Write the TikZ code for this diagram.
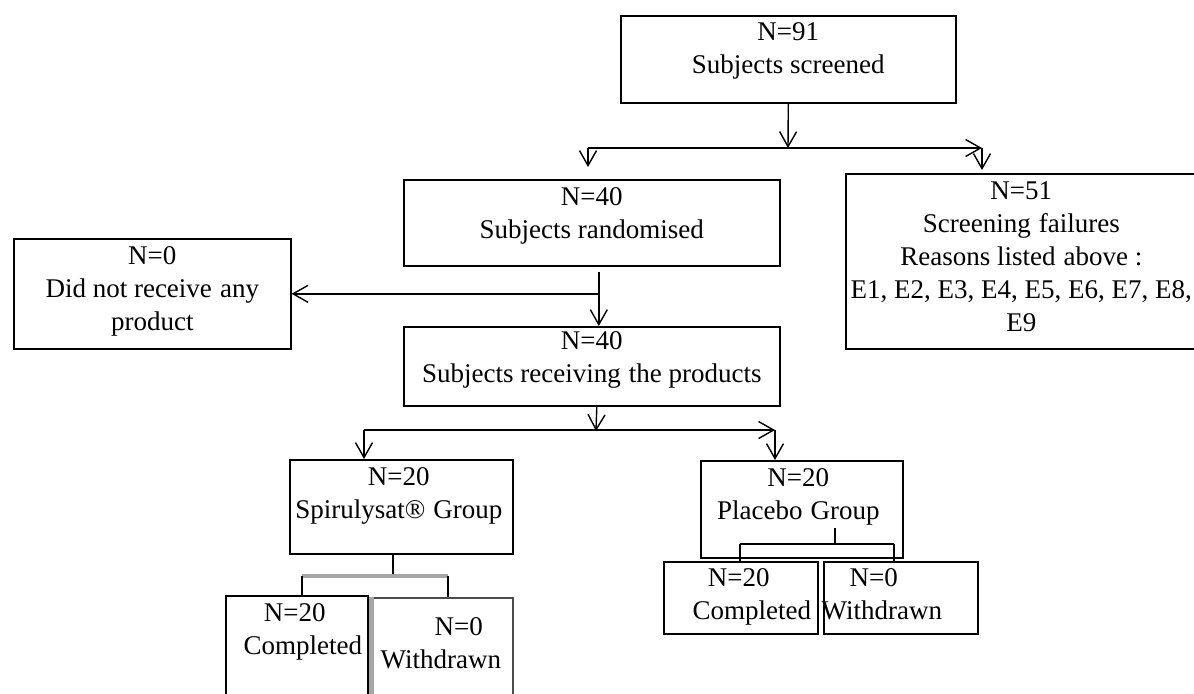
\documentclass[tikz,border=0pt]{standalone}
\usepackage{fontspec}
\setmainfont{Liberation Serif}
\usetikzlibrary{positioning,arrows.meta}
\newcommand\wsp{\hspace{0.3em}}
\tikzset{
  box/.style={draw, line width=0.8pt, inner sep=0pt, anchor=north west},
  txt/.style={align=center, inner sep=0pt, font=\fontsize{13.5}{16.5}\selectfont},
  arr/.style={line width=0.7pt, -{Straight Barb[length=7.5pt,width=8.5pt]}},
  link/.style={line width=0.7pt},
  grayline/.style={draw=gray!70, line width=2pt}
}
\begin{document}
\begin{tikzpicture}[x=0.5pt, y=-0.5pt]
  \useasboundingbox (0,0) rectangle (1194,693);
  % boxes
  \node[box, minimum width=167.5pt, minimum height=43.5pt] (screen) at (620,15) {};
  \node[box, minimum width=188pt, minimum height=43pt] (rand) at (403,179) {};
  \node[box, minimum width=175.5pt, minimum height=87.5pt] (fail) at (845,173) {};
  \node[box, minimum width=138.5pt, minimum height=55pt] (none) at (13,238) {};
  \node[box, minimum width=188pt, minimum height=39.5pt] (recv) at (403,326) {};
  \node[box, minimum width=111.5pt, minimum height=47pt] (spir) at (289,459) {};
  \node[box, minimum width=101pt, minimum height=48.5pt] (plac) at (700,460) {};
  \node[box, minimum width=71pt, minimum height=62.5pt] (comp1) at (225,595) {};
  \node[box, draw=gray!60!black, minimum width=70.5pt, minimum height=61.5pt] (with1) at (371,597) {};
  \node[box, minimum width=77pt, minimum height=36pt] (comp2) at (663,561) {};
  \node[box, minimum width=77pt, minimum height=36pt] (with2) at (823,561) {};
  \draw[grayline, line width=2.5pt] (with1.north west) -- (with1.south west);

  % texts
  \node[txt, below=3.5pt of screen.north] (screen-t) {N=91\\Subjects screened};
  \node[txt, below=4pt of rand.north] (rand-t) {N=40\\Subjects randomised};
  \node[txt, below=4pt of fail.north] (fail-t) {N=51\\Screening\wsp failures\\Reasons listed\wsp above :\\E1, E2, E3, E4, E5, E6, E7, E8,\\E9};
  \node[txt, below=4pt of none.north] (none-t) {N=0\\Did not receive\wsp any\\product};
  \node[txt, below=2.5pt of recv.north] (recv-t) {N=40\\Subjects receiving\wsp the products};
  \node[txt, below=4pt of spir.north, xshift=-1.25pt] (spir-t) {N=20\\Spirulysat®\wsp Group};
  \node[txt, below=4pt of plac.north, xshift=-1.75pt] (plac-t) {N=20\\Placebo\wsp Group};
  \node[txt, below=4pt of comp1.north, xshift=3pt] (comp1-t) {N=20\hspace*{8pt}\\Completed};
  \node[txt, below=10pt of with1.north, xshift=-0.75pt] (with1-t) {\hspace*{18pt}N=0\\Withdrawn};
  \node[txt, below=3.5pt of comp2.north, xshift=5.5pt] (comp2-t) {N=20\hspace*{13pt}\\Completed};
  \node[txt, below=3.5pt of with2.north, xshift=-9.5pt] (with2-t) {N=0\hspace*{8pt}\\Withdrawn};

  % connectors
  \coordinate (fork1) at (788,148);
  \coordinate (fork1l) at (588,148);
  \coordinate (fork1r) at (982,148);
  \draw[arr] (screen.south) -- (fork1);
  \draw[arr] (fork1l) -- (fork1r);
  \draw[arr, shorten >=6pt] (fork1l) -- (fork1l |- rand.north);
  \draw[arr, shorten >=1.5pt] (fork1r) -- (fork1r |- fail.north);

  \coordinate (drop1) at ([xshift=3.5pt, yshift=-2.5pt]rand.south);
  \coordinate (tee1) at (drop1 |- none.east);
  \draw[arr] (drop1) -- (drop1 |- recv.north);
  \draw[arr] (tee1) -- (none.east);

  \coordinate (fork2) at (596,431);
  \coordinate (fork2l) at (364,430);
  \coordinate (fork2r) at (775,430);
  \draw[arr] ([xshift=2.5pt]recv.south) -- (fork2);
  \draw[arr] (fork2l) -- (fork2r);
  \draw[arr] (fork2l) -- (fork2l |- spir.north);
  \draw[arr] (fork2r) -- (fork2r |- plac.north);

  \coordinate (fork3) at (393,576);
  \coordinate (fork3l) at (302,576);
  \coordinate (fork3r) at (448,576);
  \draw[link] (spir.south -| fork3) -- (fork3);
  \draw[grayline] (fork3l) -- (fork3r);
  \draw[link] (fork3l) -- (fork3l |- comp1.north);
  \draw[link] (fork3r) -- (fork3r |- with1.north);

  \coordinate (stub4) at (835,528);
  \coordinate (fork4) at (835,544);
  \coordinate (fork4l) at (740,544);
  \coordinate (fork4r) at (894,544);
  \draw[link] (stub4) -- (fork4);
  \draw[link] (fork4l) -- (fork4r);
  \draw[link] (fork4l) -- (fork4l |- comp2.north);
  \draw[link] (fork4r) -- (fork4r |- with2.north);
\end{tikzpicture}
\end{document}
